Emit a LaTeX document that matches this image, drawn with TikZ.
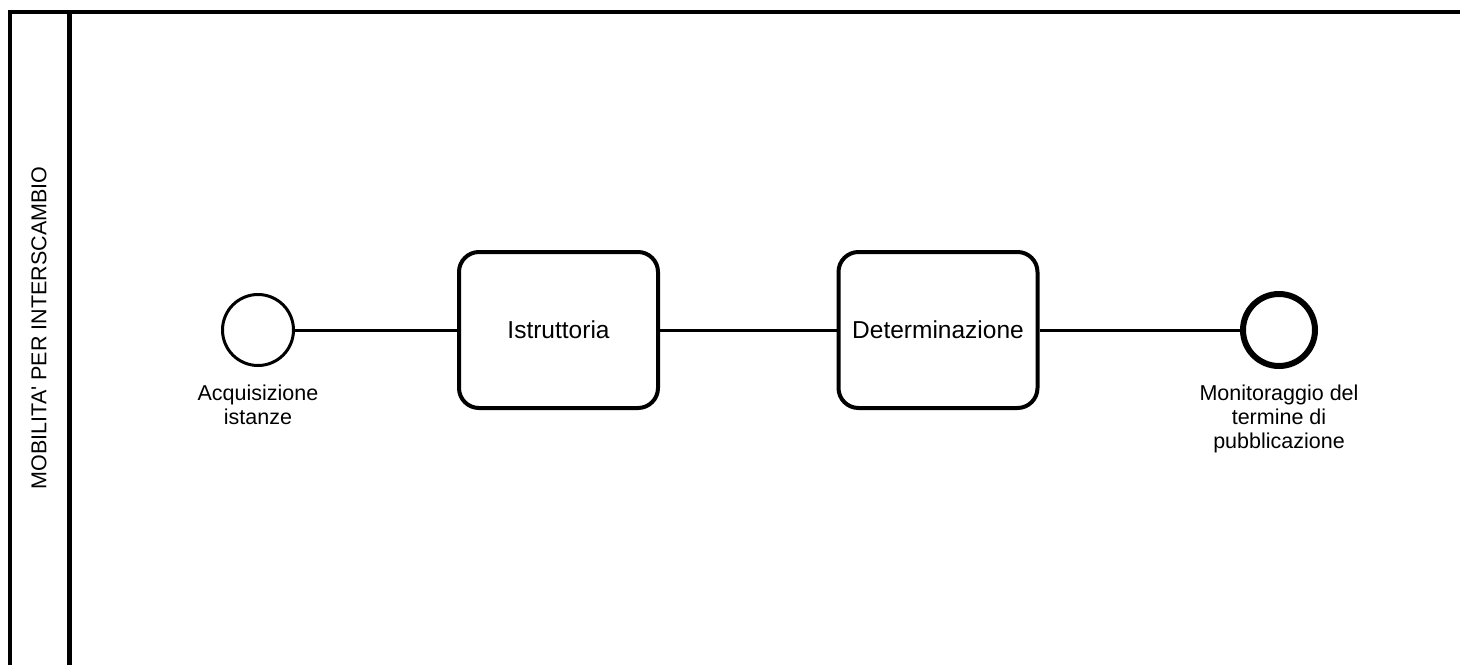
\documentclass[tikz,border=0pt]{standalone}
\usepackage{fontspec}
\setmainfont{Liberation Sans}
\usetikzlibrary{positioning}

\tikzset{
	event/.style={circle, draw=black, line width=3pt, minimum size=71pt, inner sep=0pt},
	endevent/.style={event, line width=6pt, minimum size=72pt},
	task/.style={rectangle, draw=black, line width=4pt, rounded corners=20pt, minimum width=199pt, minimum height=156pt, font=\fontsize{24.5}{28}\selectfont},
	lbl/.style={align=center, inner sep=0pt, font=\fontsize{21.5}{24}\selectfont},
	flow/.style={line width=3pt}
}

\begin{document}
\begin{tikzpicture}[x=1pt,y=-1pt]
			\useasboundingbox (0,0) rectangle (1460,665);
			
			\draw[line width=4pt] (9.5,665) -- (9.5,12) -- (1460,12);
			\draw[line width=5pt] (69,12) -- (69,665);
			\node[rotate=90, font=\fontsize{21.5}{24}\selectfont] (lane) at (39,328) {MOBILITA\textquotesingle{} PER INTERSCAMBIO};
			
			\node[event] (start) at (258,330) {};
			\node[task] (istr) at (558.5,330) {Istruttoria};
			\node[task] (det) at (938,330) {Determinazione};
			\node[endevent] (stop) at (1279,330) {};
			
			\node[lbl, below=18pt of start] (startlbl) {Acquisizione\\istanze};
			\node[lbl, below=16pt of stop] (stoplbl) {Monitoraggio del\\termine di\\pubblicazione};
			
			\draw[flow] (start) -- (istr);
			\draw[flow] (istr) -- (det);
			\draw[flow] (det) -- (stop);
		\end{tikzpicture}
\end{document}
